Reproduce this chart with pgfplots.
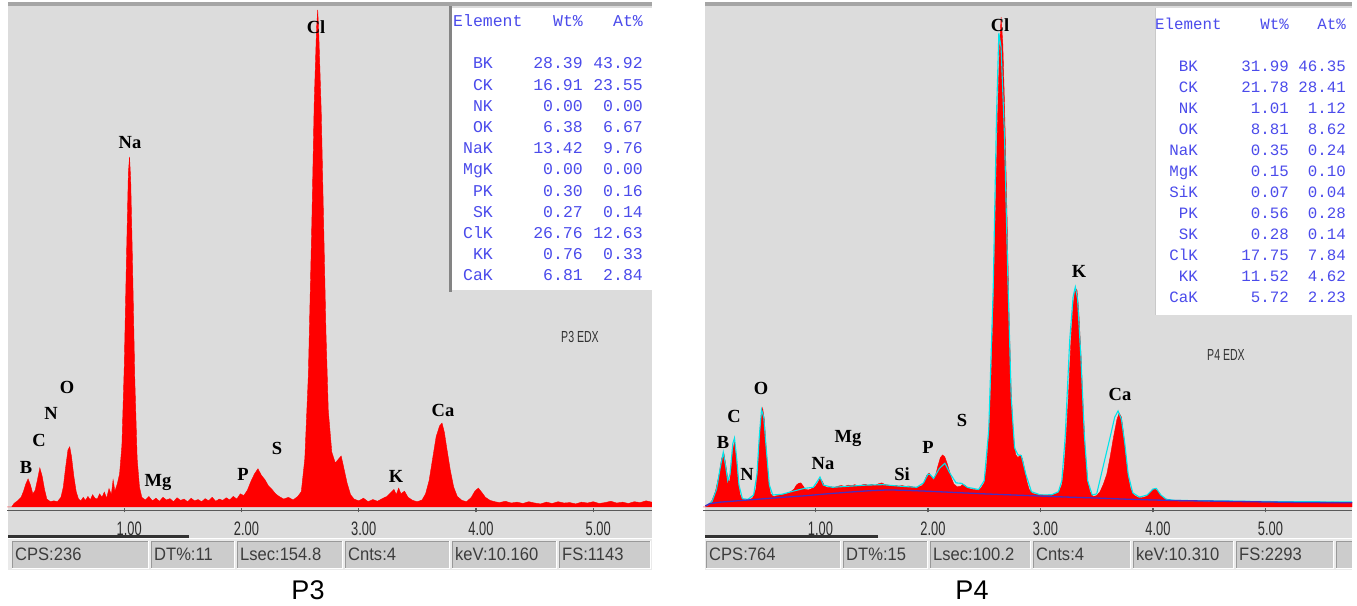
\documentclass[border=0pt]{standalone}
\usepackage{pgfplots}
\pgfplotsset{compat=1.18}
\usepackage{fontspec}
\setmainfont{Liberation Sans}
\newfontfamily\monofont{Liberation Mono}
\newfontfamily\elfont{Liberation Serif}
\newfontfamily\tickfont[FakeStretch=0.66]{Liberation Sans}
\newfontfamily\statfont[FakeStretch=0.92]{Liberation Sans}

\definecolor{panelgray}{RGB}{220,220,220}
\definecolor{bordergray}{RGB}{165,165,165}
\definecolor{axisgray}{RGB}{90,90,90}
\definecolor{tickgray}{RGB}{45,45,45}
\definecolor{tabblue}{RGB}{75,75,235}
\definecolor{statbg}{RGB}{234,234,234}
\definecolor{statfield}{RGB}{204,204,204}
\definecolor{stattext}{RGB}{60,60,60}
\definecolor{specred}{RGB}{255,0,0}
\definecolor{fitcyan}{RGB}{0,228,235}
\definecolor{bgblue}{RGB}{75,45,190}

% P3 spectrum (keV, counts)
\pgfplotstableread{
x y
0.00 0
0.04 0
0.06 8
0.09 14
0.12 22
0.14 35
0.16 52
0.18 64
0.20 50
0.22 30
0.24 38
0.26 62
0.28 89
0.30 70
0.32 40
0.34 18
0.37 12
0.40 14
0.43 12
0.46 22
0.48 45
0.50 90
0.52 130
0.535 137
0.55 115
0.57 70
0.59 35
0.61 18
0.63 14
0.65 22
0.67 15
0.69 24
0.71 16
0.73 28
0.75 20
0.77 18
0.79 30
0.81 22
0.83 34
0.85 20
0.87 42
0.89 28
0.905 62
0.92 36
0.94 52
0.96 75
0.98 140
1.00 320
1.02 580
1.035 760
1.045 797
1.055 745
1.07 560
1.09 290
1.11 110
1.13 45
1.15 22
1.18 16
1.21 24
1.24 14
1.27 20
1.30 13
1.33 22
1.36 16
1.39 19
1.42 12
1.45 21
1.48 15
1.51 18
1.54 12
1.57 20
1.60 14
1.63 17
1.66 12
1.69 19
1.72 14
1.75 22
1.78 13
1.81 18
1.84 15
1.87 21
1.90 16
1.93 24
1.96 18
1.99 30
2.02 26
2.05 38
2.08 58
2.11 75
2.14 87
2.17 72
2.20 62
2.23 48
2.26 40
2.29 30
2.32 24
2.36 18
2.40 22
2.44 16
2.48 24
2.51 35
2.54 110
2.57 300
2.60 650
2.62 920
2.64 1090
2.65 1132
2.66 1070
2.68 900
2.70 650
2.72 400
2.74 220
2.77 125
2.80 100
2.83 110
2.85 116
2.87 92
2.90 55
2.93 28
2.96 18
3.00 14
3.04 20
3.08 12
3.12 17
3.16 13
3.20 19
3.24 24
3.27 32
3.30 40
3.32 28
3.34 43
3.36 30
3.39 36
3.42 22
3.46 15
3.50 12
3.54 16
3.57 30
3.60 60
3.63 110
3.66 160
3.69 185
3.71 191
3.73 170
3.75 135
3.78 85
3.81 45
3.84 24
3.88 15
3.92 12
3.96 22
3.99 36
4.02 43
4.05 33
4.08 22
4.12 15
4.16 12
4.20 10
4.25 13
4.30 9
4.35 11
4.40 8
4.45 12
4.50 9
4.55 7
4.60 11
4.65 8
4.70 12
4.75 9
4.80 10
4.85 7
4.90 11
4.95 9
5.00 12
5.05 8
5.10 10
5.15 13
5.20 9
5.25 11
5.30 8
5.35 12
5.40 10
5.45 14
5.50 11
}\specPthree

% P4 measured spectrum
\pgfplotstableread{
x y
0.00 0
0.02 0
0.05 10
0.08 30
0.11 70
0.14 140
0.165 220
0.185 247
0.20 200
0.22 130
0.235 110
0.25 170
0.265 260
0.28 297
0.295 230
0.31 130
0.33 55
0.35 35
0.38 32
0.41 34
0.44 40
0.47 80
0.49 200
0.51 380
0.53 452
0.545 400
0.56 280
0.58 130
0.60 60
0.63 48
0.66 52
0.69 55
0.72 58
0.75 62
0.78 70
0.81 82
0.83 100
0.85 108
0.87 110
0.89 96
0.91 80
0.94 78
0.97 85
1.00 95
1.02 110
1.04 130
1.06 118
1.08 95
1.11 88
1.14 92
1.17 90
1.20 95
1.23 98
1.26 94
1.29 100
1.32 97
1.35 102
1.38 96
1.41 100
1.44 104
1.47 99
1.50 103
1.53 98
1.56 106
1.59 110
1.62 102
1.65 100
1.68 97
1.71 99
1.74 95
1.77 98
1.80 94
1.83 96
1.86 92
1.89 90
1.92 93
1.95 98
1.97 120
1.99 145
2.01 155
2.03 140
2.05 125
2.07 150
2.09 190
2.11 225
2.13 238
2.15 228
2.17 200
2.19 165
2.21 130
2.23 105
2.26 92
2.29 95
2.31 105
2.33 98
2.36 85
2.40 80
2.44 78
2.47 85
2.50 110
2.52 180
2.54 330
2.56 560
2.58 900
2.60 1350
2.62 1800
2.635 2080
2.65 2238
2.665 2120
2.68 1850
2.70 1400
2.72 900
2.74 520
2.76 320
2.78 240
2.80 225
2.82 238
2.84 220
2.86 170
2.88 115
2.90 80
2.93 62
2.96 58
3.00 56
3.04 54
3.08 55
3.12 58
3.16 65
3.19 100
3.21 180
3.23 330
3.25 520
3.27 750
3.29 920
3.31 1000
3.325 990
3.34 900
3.36 700
3.38 450
3.40 240
3.42 120
3.44 70
3.47 48
3.50 52
3.53 70
3.56 105
3.59 150
3.62 230
3.65 320
3.68 400
3.70 429
3.72 410
3.74 330
3.76 230
3.78 140
3.80 85
3.83 55
3.86 45
3.90 42
3.94 48
3.97 65
4.00 80
4.02 82
4.04 75
4.07 55
4.10 40
4.14 32
4.20 29
4.30 27
4.40 28
4.50 26
4.60 27
4.70 25
4.80 26
4.90 24
5.00 25
5.10 23
5.20 24
5.30 22
5.40 23
5.50 22
5.60 23
5.70 21
5.77 22
}\specPfour

% P4 fitted spectrum
\pgfplotstableread{
x y
0.03 5
0.08 25
0.12 80
0.15 170
0.18 250
0.20 190
0.22 120
0.24 150
0.265 290
0.28 315
0.30 220
0.32 100
0.35 38
0.40 35
0.45 55
0.48 150
0.50 320
0.52 445
0.54 410
0.56 280
0.59 100
0.62 55
0.70 58
0.80 72
0.90 85
0.98 90
1.02 120
1.04 137
1.07 100
1.15 90
1.30 95
1.45 100
1.60 102
1.75 95
1.90 90
1.96 110
2.00 150
2.02 148
2.05 130
2.10 175
2.15 200
2.20 150
2.25 110
2.30 108
2.35 90
2.45 80
2.50 120
2.54 350
2.58 1000
2.61 1800
2.63 2165
2.65 2100
2.68 1700
2.71 1050
2.74 500
2.77 270
2.80 238
2.83 235
2.87 150
2.92 70
3.00 55
3.10 56
3.16 70
3.19 120
3.22 320
3.26 760
3.29 960
3.31 1005
3.33 950
3.36 680
3.39 330
3.42 120
3.46 55
3.50 60
3.55 169
3.62 320
3.66 410
3.69 439
3.72 400
3.75 290
3.78 150
3.82 65
3.88 45
3.95 55
4.00 82
4.03 85
4.07 55
4.12 35
4.20 30
4.60 28
5.00 25
5.77 23
}\fitPfour

% P4 background
\pgfplotstableread{
x y
0.02 5
0.06 15
0.15 22
0.30 28
0.50 36
0.70 44
0.90 51
1.10 60
1.30 68
1.50 75
1.65 78
1.80 76
2.00 72
2.25 66
2.50 60
2.75 55
3.00 50
3.25 45
3.50 41
3.75 36
4.00 32
4.25 29
4.50 27
4.75 25
5.00 23
5.25 21
5.50 20
5.77 19
}\bgPfour

\pgfplotsset{
  edx/.style={
    scale only axis, anchor=south west,
    axis x line*=bottom, axis y line=none,
    x axis line style={draw=axisgray, line width=1.6pt, -},
    xtick={1,2,3,4,5},
    xticklabels={1.00,2.00,3.00,4.00,5.00},
    ytick=\empty,
    xtick style={draw=axisgray, line width=1.4pt},
    major tick length=4pt, tick align=center,
    xticklabel style={font=\tickfont\fontsize{19.5}{19.5}\selectfont, text=tickgray,
      anchor=center, yshift=-16.5pt, xshift=5pt},
  },
}

\tikzset{
  elem/.style={font=\elfont\bfseries\fontsize{18.5}{18.5}\selectfont, text=black, inner sep=0pt},
  tabL/.style={font=\monofont\fontsize{16.5}{16.5}\selectfont, text=tabblue, inner sep=0pt},
  tabR/.style={font=\monofont\fontsize{15.8}{15.8}\selectfont, text=tabblue, inner sep=0pt},
  stattxt/.style={font=\statfont\fontsize{18}{18}\selectfont, text=stattext, inner sep=0pt, anchor=west},
  captxt/.style={font=\fontsize{27}{27}\selectfont, text=black, inner sep=0pt},
  edxtag/.style={font=\tickfont\fontsize{16}{16}\selectfont, text=black!80, inner sep=0pt},
}

\begin{document}
\begin{tikzpicture}[x=1pt,y=1pt]
\fill[white] (0,0) rectangle (1357,605);

% ---------- left screen (P3) ----------
\fill[panelgray] (8,67) rectangle (652,603);
\fill[bordergray] (8,599) rectangle (652,603);
\fill[white] (452,315) rectangle (652,597);
\draw[bordergray!80!black, line width=2.5pt] (450.5,313) -- (450.5,599);
\draw[black!80, line width=3pt] (8,68) -- (189,68);
\fill[statbg] (8,35) rectangle (652,66);
\foreach \a/\b/\t in {12/148/{CPS:236}, 151/234/{DT\%:11}, 237/342/{Lsec:154.8},
                      345/449/{Cnts:4}, 452/556/{keV:10.160}, 559/650/{FS:1143}} {
  \fill[statfield] (\a,37) rectangle (\b,64);
  \draw[black!40] (\a,37) -- (\a,64) -- (\b,64);
  \draw[white] (\a,37) -- (\b,37) -- (\b,64);
  \node[stattxt] at (\a+3,50.5) {\t};
}

% ---------- right screen (P4) ----------
\fill[panelgray] (705,67) rectangle (1352,603);
\fill[bordergray] (705,599) rectangle (1352,603);
\fill[white] (1155,290) rectangle (1352,597);
\draw[bordergray!60, line width=1pt] (1155,290) -- (1155,597);
\draw[black!80, line width=3pt] (705,68) -- (878,68);
\fill[statbg] (705,35) rectangle (1352,66);
\foreach \a/\b/\t in {706/840/{CPS:764}, 843/927/{DT\%:15}, 930/1030/{Lsec:100.2},
                      1033/1130/{Cnts:4}, 1133/1233/{keV:10.310}, 1236/1333/{FS:2293}, 1336/1352/{}} {
  \fill[statfield] (\a,37) rectangle (\b,64);
  \draw[black!40] (\a,37) -- (\a,64) -- (\b,64);
  \draw[white] (\a,37) -- (\b,37) -- (\b,64);
  \node[stattxt] at (\a+3,50.5) {\t};
}

% ---------- spectra ----------
\begin{axis}[edx, at={(7pt,94.5pt)}, width=644.9pt, height=505.5pt,
  xmin=0, xmax=5.5, ymin=-8, ymax=1143]
  \addplot[draw=specred, fill=specred, line width=0.4pt] table {\specPthree} \closedcycle;
\end{axis}

\begin{axis}[edx, at={(703pt,94.5pt)}, width=649pt, height=505.5pt,
  xmin=0, xmax=5.77, ymin=-16, ymax=2293]
  \addplot[draw=specred, fill=specred, line width=0.4pt] table {\specPfour} \closedcycle;
  \addplot[draw=fitcyan, line width=1.1pt] table {\fitPfour};
  \addplot[draw=bgblue, line width=1.3pt] table {\bgPfour};
\end{axis}

% ---------- peak labels, P3 ----------
\node[elem] at (26,138) {B};
\node[elem] at (39,165) {C};
\node[elem] at (51,192) {N};
\node[elem] at (67,218) {O};
\node[elem] at (130,462) {Na};
\node[elem] at (158,123) {Mg};
\node[elem] at (243,131) {P};
\node[elem] at (277,157) {S};
\node[elem] at (316,578) {Cl};
\node[elem] at (396,129) {K};
\node[elem] at (443,195) {Ca};
\node[edxtag] at (580,268) {P3 EDX};

% ---------- peak labels, P4 ----------
\node[elem] at (723,163) {B};
\node[elem] at (734,189) {C};
\node[elem] at (747,131) {N};
\node[elem] at (761,217) {O};
\node[elem] at (823,141) {Na};
\node[elem] at (848,167) {Mg};
\node[elem] at (902,131) {Si};
\node[elem] at (928,158) {P};
\node[elem] at (962,185) {S};
\node[elem] at (1000,580) {Cl};
\node[elem] at (1079,334) {K};
\node[elem] at (1120,211) {Ca};
\node[edxtag] at (1226,250) {P4 EDX};

% ---------- quantification tables ----------
\node[tabL, anchor=base west] at (453,578) {Element};
\node[tabL, anchor=base east] at (583,578) {Wt\%};
\node[tabL, anchor=base east] at (643,578) {At\%};
\foreach \e/\w/\a [count=\i from 0] in {BK/28.39/43.92, CK/16.91/23.55, NK/0.00/0.00,
    OK/6.38/6.67, NaK/13.42/9.76, MgK/0.00/0.00, PK/0.30/0.16, SK/0.27/0.14,
    ClK/26.76/12.63, KK/0.76/0.33, CaK/6.81/2.84} {
  \node[tabL, anchor=base east] at (493,{536-21.2*\i}) {\e};
  \node[tabL, anchor=base east] at (583,{536-21.2*\i}) {\w};
  \node[tabL, anchor=base east] at (643,{536-21.2*\i}) {\a};
}

\node[tabR, anchor=base west] at (1155,575) {Element};
\node[tabR, anchor=base east] at (1289,575) {Wt\%};
\node[tabR, anchor=base east] at (1346,575) {At\%};
\foreach \e/\w/\a [count=\i from 0] in {BK/31.99/46.35, CK/21.78/28.41, NK/1.01/1.12,
    OK/8.81/8.62, NaK/0.35/0.24, MgK/0.15/0.10, SiK/0.07/0.04, PK/0.56/0.28,
    SK/0.28/0.14, ClK/17.75/7.84, KK/11.52/4.62, CaK/5.72/2.23} {
  \node[tabR, anchor=base east] at (1198,{533.5-21*\i}) {\e};
  \node[tabR, anchor=base east] at (1289,{533.5-21*\i}) {\w};
  \node[tabR, anchor=base east] at (1346,{533.5-21*\i}) {\a};
}

% ---------- captions ----------
\node[captxt] at (308,15) {P3};
\node[captxt] at (972,15) {P4};
\end{tikzpicture}
\end{document}
